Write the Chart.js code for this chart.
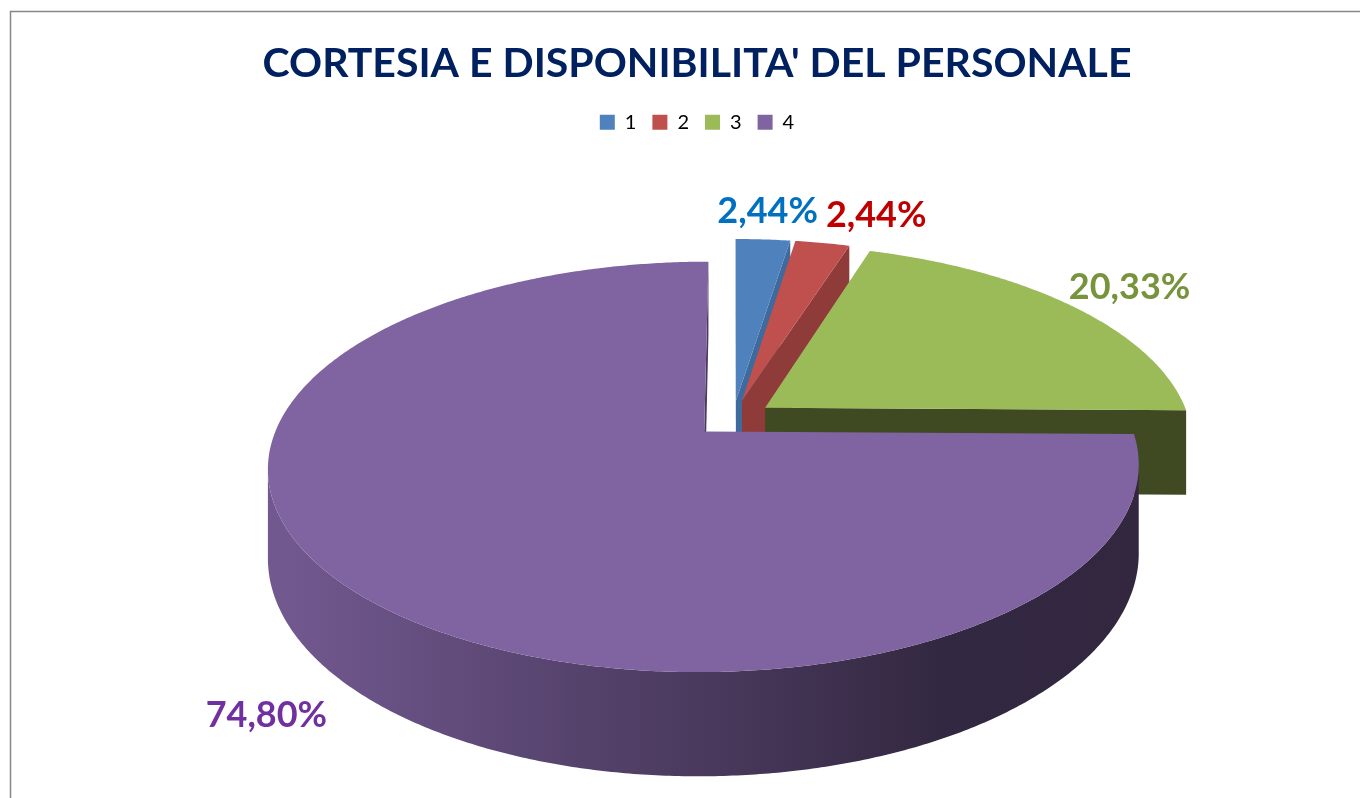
<!DOCTYPE html>
<html>
<head>
<meta charset="utf-8">
<script src="https://cdn.jsdelivr.net/npm/chart.js@4.4.0/dist/chart.umd.min.js"></script>
<style>
html, body { margin: 0; padding: 0; background: #fff; }
#wrap { width: 1360px; height: 798px; }
</style>
</head>
<body>
<div id="wrap"><canvas id="chart"></canvas></div>
<script>
// chart data
var categories = ['1', '2', '3', '4']
var percentages = [2.44, 2.44, 20.33, 74.80]

// colours
var topColors = ['#4F81BD', '#C0504D', '#9BBB59', '#8064A2']
var sideColors = ['#3E6A9D', '#8E3B39', '#3F4A22', '#4A3A5E']
var labelColors = ['#0070C0', '#C00000', '#77933C', '#7030A0']

// fake 3d view of the pie plane
var view = {
	shiftX: 36,
	shiftY: -51.7,
	tilt: 0.459,       // vertical squash
	persp: -0.1708,    // perspective: near side larger
	depth: 0.201,      // thickness of the pie
	labelRadius: 1.21,
	labelDrop: 1.2
}

function dirOf (a) {
	return { x: Math.cos(a), y: Math.sin(a) }
}

function shade (hex, f) {
	var n = parseInt(hex.slice(1), 16)
	var r = Math.round(((n >> 16) & 255) * f)
	var g = Math.round(((n >> 8) & 255) * f)
	var b = Math.round((n & 255) * f)
	return 'rgb(' + r + ',' + g + ',' + b + ')'
}

function formatPct (v) {
	return v.toFixed(2).replace('.', ',') + '%'
}

// draws the pie as a tilted 3d disc, using the angles chart.js computed
var pie3d = {
	id: 'pie3d',
	beforeDatasetsDraw: function (chart) {
		var ctx = chart.ctx
		var arcs = chart.getDatasetMeta(0).data
		var R = arcs[0].outerRadius
		var cx = arcs[0].x + view.shiftX
		var cy = arcs[0].y + view.shiftY
		var cam = { x: 0, y: -1 / view.persp }

		function P (X, Y, z) {
			var den = 1 + view.persp * Y
			return {
				x: cx + R * X / den,
				y: cy + (R * view.tilt * Y + R * view.depth * z) / den
			}
		}

		function poly (pts, fill) {
			ctx.beginPath()
			ctx.moveTo(pts[0].x, pts[0].y)
			for (var k = 1; k < pts.length; k++) ctx.lineTo(pts[k].x, pts[k].y)
			ctx.closePath()
			ctx.fillStyle = fill
			ctx.fill()
		}

		var slices = arcs.map(function (arc, i) {
			var mid = (arc.startAngle + arc.endAngle) / 2
			var o = (arc.options.offset || 0) / R
			var c = { x: Math.cos(mid) * o, y: Math.sin(mid) * o }
			return { i: i, s: arc.startAngle, e: arc.endAngle, mid: mid, c: c, key: c.y + Math.sin(mid) * 0.5 }
		})
		slices.sort(function (a, b) { return a.key - b.key })

		ctx.save()
		slices.forEach(function (sl) {
			var top = topColors[sl.i]

			// radial walls
			;[[sl.s, sl.s - Math.PI / 2], [sl.e, sl.e + Math.PI / 2]].forEach(function (w) {
				var d = dirOf(w[0])
				var n = dirOf(w[1])
				var mx = sl.c.x + d.x * 0.5
				var my = sl.c.y + d.y * 0.5
				if (n.x * (cam.x - mx) + n.y * (cam.y - my) <= 0) return
				poly([
					P(sl.c.x, sl.c.y, 0),
					P(sl.c.x + d.x, sl.c.y + d.y, 0),
					P(sl.c.x + d.x, sl.c.y + d.y, 1),
					P(sl.c.x, sl.c.y, 1)
				], sideColors[sl.i])
			})

			// outer curved wall, front facing part only
			var grad = ctx.createLinearGradient(cx - R * 1.05, 0, cx + R, 0)
			grad.addColorStop(0, shade(top, 0.88))
			grad.addColorStop(0.5, shade(top, 0.56))
			grad.addColorStop(0.75, shade(top, 0.4))
			grad.addColorStop(1, shade(top, 0.39))
			var steps = Math.max(8, Math.ceil((sl.e - sl.s) / (Math.PI / 360)))
			var run = []
			var flush = function () {
				if (run.length > 1) {
					var pts = run.map(function (q) { return P(q.x, q.y, 0) })
					for (var k = run.length - 1; k >= 0; k--) pts.push(P(run[k].x, run[k].y, 1))
					poly(pts, grad)
				}
				run = []
			}
			for (var k = 0; k <= steps; k++) {
				var a = sl.s + (sl.e - sl.s) * k / steps
				var d = dirOf(a)
				var vis = d.x * (cam.x - sl.c.x) + d.y * (cam.y - sl.c.y) - 1 > 0
				if (vis) run.push({ x: sl.c.x + d.x, y: sl.c.y + d.y })
				else flush()
			}
			flush()

			// top face
			var pts = [P(sl.c.x, sl.c.y, 0)]
			for (var k = 0; k <= steps; k++) {
				var a = sl.s + (sl.e - sl.s) * k / steps
				var d = dirOf(a)
				pts.push(P(sl.c.x + d.x, sl.c.y + d.y, 0))
			}
			poly(pts, top)
		})

		// data labels
		ctx.font = 'bold 36px Lato'
		ctx.textAlign = 'center'
		ctx.textBaseline = 'middle'
		var placed = []
		slices.slice().sort(function (a, b) { return a.i - b.i }).forEach(function (sl) {
			var d = dirOf(sl.mid)
			var p = P(sl.c.x + d.x * view.labelRadius, sl.c.y + d.y * view.labelRadius, Math.max(0, d.y) * view.labelDrop)
			var text = formatPct(percentages[sl.i])
			var w = ctx.measureText(text).width
			var box = { l: p.x - w / 2, r: p.x + w / 2, t: p.y - 15, b: p.y + 15 }
			placed.forEach(function (o) {
				if (box.l < o.r && box.r > o.l && box.t < o.b && box.b > o.t) {
					var dx = o.r + 8 - box.l
					box.l += dx; box.r += dx; p.x += dx
				}
			})
			placed.push(box)
			ctx.fillStyle = labelColors[sl.i]
			ctx.fillText(text, p.x, p.y)
		})
		ctx.restore()
		return false
	}
}

// grey frame of the chart area
var frame = {
	id: 'frame',
	beforeDraw: function (chart) {
		var ctx = chart.ctx
		ctx.save()
		ctx.strokeStyle = '#878787'
		ctx.lineWidth = 1.5
		ctx.beginPath()
		ctx.moveTo(10.5, chart.height + 5)
		ctx.lineTo(10.5, 11.5)
		ctx.lineTo(chart.width + 5, 11.5)
		ctx.stroke()
		ctx.restore()
	}
}

var chart = new Chart(document.getElementById('chart'), {
	type: 'pie',
	data: {
		labels: categories,
		datasets: [{
			data: percentages,
			backgroundColor: topColors,
			borderWidth: 0,
			offset: 40
		}]
	},
	options: {
		responsive: true,
		maintainAspectRatio: false,
		animation: false,
		events: [],
		radius: 424,
		layout: {
			padding: { left: 34 }
		},
		plugins: {
			title: {
				display: true,
				text: "CORTESIA E DISPONIBILITA' DEL PERSONALE",
				color: '#002060',
				font: { family: 'Lato', size: 41, weight: 'bold' },
				padding: { top: 39, bottom: 8 }
			},
			legend: {
				position: 'top',
				labels: {
					boxWidth: 15,
					boxHeight: 15,
					padding: 16,
					color: '#000',
					font: { family: 'Lato', size: 20 }
				}
			},
			tooltip: { enabled: false }
		}
	},
	plugins: [frame, pie3d]
})
</script>
</body>
</html>
